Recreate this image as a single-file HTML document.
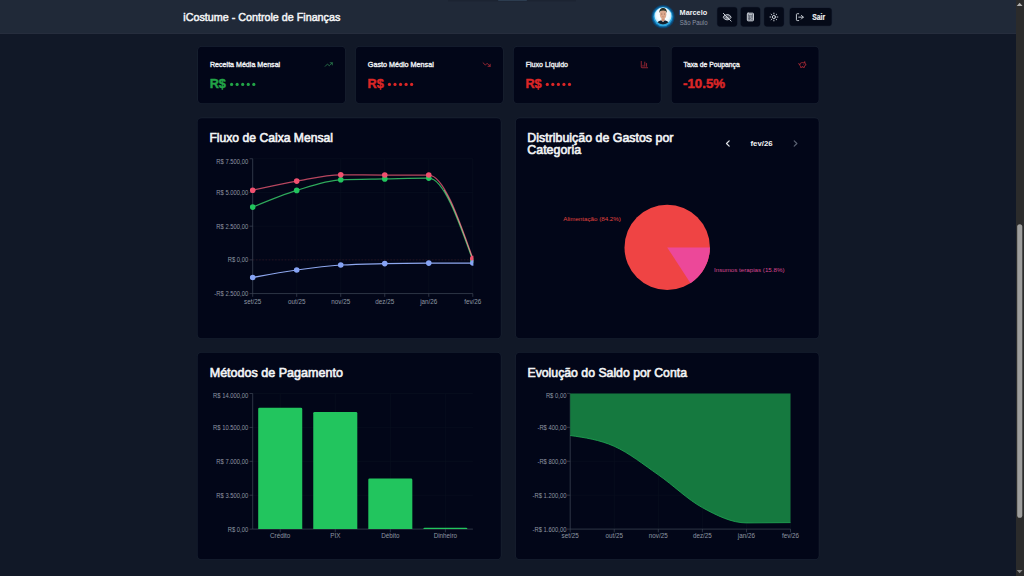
<!DOCTYPE html>
<html lang="pt-BR">
<head>
<meta charset="utf-8">
<title>iCostume - Controle de Finanças</title>
<style>
*{box-sizing:border-box;margin:0;padding:0}
html,body{width:1024px;height:576px;overflow:hidden}
body{background:#111827;font-family:"Liberation Sans",sans-serif;color:#f3f4f6;position:relative}
#hdr{position:absolute;left:0;top:0;width:1016px;height:34px;background:#202938;border-bottom:1px solid #262d3d}
.t{position:absolute;white-space:nowrap;transform-origin:0 0;margin:0}
h1.t{font-size:11.4px;line-height:14px;font-weight:normal;-webkit-text-stroke:.5px #f3f4f6;color:#f3f4f6}
h2.t{font-size:12.8px;line-height:12.4px;font-weight:normal;-webkit-text-stroke:.62px #f3f4f6;color:#f3f4f6}
.lbl{font-size:7.3px;line-height:9px;-webkit-text-stroke:.36px #eef0f3;color:#eef0f3}
.val{font-size:12.3px;line-height:14px;font-weight:bold;-webkit-text-stroke:.45px currentColor}
.g{color:#22a447}.r{color:#dc2626}
.un{font-size:7.6px;line-height:9px;font-weight:bold;color:#f3f4f6}
.uc{font-size:6.3px;line-height:8px;color:#8b93a3}
.sair{font-size:8.3px;line-height:9px;font-weight:bold;color:#f3f4f6;-webkit-text-stroke:.15px #f3f4f6}
.mon{font-size:7.2px;line-height:9px;font-weight:bold;color:#f3f4f6}
svg.l{position:absolute;left:0;top:0;width:1024px;height:576px;overflow:hidden}
svg.l text{font-family:"Liberation Sans",sans-serif;font-size:6.3px;fill:#8e96a3}
.ic{fill:none;stroke-linecap:round;stroke-linejoin:round;overflow:visible}
</style>
</head>
<body>
<div id="hdr"></div>
<svg class="l" viewBox="0 0 1024 576">
<rect x="197.4" y="46.1" width="148.3" height="57.7" rx="4.6" fill="#1a2333"/><rect x="198" y="46.7" width="147.1" height="56.5" rx="4" fill="#020618"/>
<rect x="355.25" y="46.1" width="148.3" height="57.7" rx="4.6" fill="#1a2333"/><rect x="355.85" y="46.7" width="147.1" height="56.5" rx="4" fill="#020618"/>
<rect x="513.1" y="46.1" width="148.3" height="57.7" rx="4.6" fill="#1a2333"/><rect x="513.7" y="46.7" width="147.1" height="56.5" rx="4" fill="#020618"/>
<rect x="670.95" y="46.1" width="148.3" height="57.7" rx="4.6" fill="#1a2333"/><rect x="671.55" y="46.7" width="147.1" height="56.5" rx="4" fill="#020618"/>
<rect x="197" y="117.6" width="304.4" height="221.2" rx="4.6" fill="#1a2333"/><rect x="197.6" y="118.2" width="303.2" height="220" rx="4" fill="#020618"/>
<rect x="515.3" y="117.6" width="304.05" height="221.2" rx="4.6" fill="#1a2333"/><rect x="515.9" y="118.2" width="302.85" height="220" rx="4" fill="#020618"/>
<rect x="197" y="352.2" width="304.4" height="207.7" rx="4.6" fill="#1a2333"/><rect x="197.6" y="352.8" width="303.2" height="206.5" rx="4" fill="#020618"/>
<rect x="515.3" y="352.2" width="304.05" height="207.7" rx="4.6" fill="#1a2333"/><rect x="515.9" y="352.8" width="302.85" height="206.5" rx="4" fill="#020618"/>
<rect x="716.8" y="6.8" width="20.8" height="20.1" rx="3.3" fill="#182132"/><rect x="717.3" y="7.3" width="19.8" height="19.1" rx="2.8" fill="#050a18"/>
<rect x="740.3" y="6.8" width="20.3" height="20.1" rx="3.3" fill="#182132"/><rect x="740.8" y="7.3" width="19.3" height="19.1" rx="2.8" fill="#050a18"/>
<rect x="763.7" y="6.8" width="20.6" height="20.1" rx="3.3" fill="#182132"/><rect x="764.2" y="7.3" width="19.6" height="19.1" rx="2.8" fill="#050a18"/>
<rect x="789.3" y="7.6" width="42.8" height="18.6" rx="3.3" fill="#182132"/><rect x="789.8" y="8.1" width="41.8" height="17.6" rx="2.8" fill="#050a18"/>
</svg>
<h1 class="t" style="left:183px;top:10px;transform:translate(0.3px,0px) scaleX(0.943)">iCostume - Controle de Finanças</h1>
<div class="t un" style="left:679px;top:8px;transform:translate(0.6px,0.4px) scaleX(0.96)">Marcelo</div>
<div class="t uc" style="left:679px;top:18px;transform:translate(0.8px,0.9px) scaleX(0.955)">São Paulo</div>
<div class="t sair" style="left:812px;top:12px;transform:translate(0.3px,0.65px) scaleX(0.82)">Sair</div>
<div class="t lbl" style="left:210px;top:60px;transform:translate(0px,0.2px) scaleX(0.972)">Receita Média Mensal</div>
<div class="t val g" style="left:209px;top:77px;transform:translate(0.7px,0.1px) scaleX(1.03)">R$</div>
<div class="t lbl" style="left:367px;top:60px;transform:translate(0.85px,0.2px) scaleX(0.985)">Gasto Médio Mensal</div>
<div class="t val r" style="left:367px;top:77px;transform:translate(0.55px,0.1px) scaleX(1.03)">R$</div>
<div class="t lbl" style="left:525px;top:60px;transform:translate(0.7px,0.2px) scaleX(0.965)">Fluxo Líquido</div>
<div class="t val r" style="left:525px;top:77px;transform:translate(0.4px,0.1px) scaleX(1.03)">R$</div>
<div class="t lbl" style="left:683px;top:60px;transform:translate(0.55px,0.2px) scaleX(0.93)">Taxa de Poupança</div>
<div class="t val r" style="left:683px;top:77px;transform:translate(0.05px,0.1px) scaleX(1.08)">-10.5%</div>
<h2 class="t" style="left:209px;top:132px;transform:translate(0.4px,0.2px) scaleX(0.95)">Fluxo de Caixa Mensal</h2>
<h2 class="t" style="left:527px;top:132px;transform:translate(0.3px,0.2px) scaleX(0.969)">Distribuição de Gastos por<br>Categoria</h2>
<h2 class="t" style="left:209px;top:366px;transform:translate(0.7px,0.8px) scaleX(0.98)">Métodos de Pagamento</h2>
<h2 class="t" style="left:527px;top:366px;transform:translate(0.5px,0.8px) scaleX(0.958)">Evolução do Saldo por Conta</h2>
<div class="t mon" style="left:750px;top:139px;transform:translate(0.5px,0.1px) scaleX(1.09)">fev/26</div>
<svg class="l" viewBox="0 0 1024 576">
<rect x="448" y="0" width="128" height="1.5" fill="#1c2432"/><rect x="498" y="0" width="29" height=".9" rx=".4" fill="#2c3c4f"/>
<svg x="650" y="4" width="26" height="26" viewBox="-13 -12.700 26 26" overflow="visible">
<defs><clipPath id="av"><circle cx="0" cy="-.7" r="8.400"/></clipPath>
<radialGradient id="avg" cx="50%" cy="45%" r="55%"><stop offset="0" stop-color="#ffffff"/><stop offset=".7" stop-color="#f1faff"/><stop offset="1" stop-color="#9fdcf8"/></radialGradient></defs>
<circle r="11.600" fill="#0c426d"/>
<circle r="10.600" fill="#0f6199"/>
<circle r="9.600" fill="#2aa6df"/>
<circle cx="0" cy="-.7" r="8.500" fill="url(#avg)"/>
<g clip-path="url(#av)">
<path d="M-6.400 8.500C-6.200 5-3.400 4-1.700 3.600L0 5.300 1.700 3.600C3.400 4 6.200 5 6.400 8.500z" fill="#101f2e"/>
<rect x="-1.500" y="1" width="3.200" height="3.600" rx="1" fill="#cf9479"/>
<ellipse cx=".1" cy="-2.400" rx="3.250" ry="4.500" fill="#dca88e"/>
<ellipse cx="-1.200" cy="-2.700" rx=".55" ry=".4" fill="#6b4a3f"/><ellipse cx="1.400" cy="-2.700" rx=".55" ry=".4" fill="#6b4a3f"/><path d="M-1-.1Q.1.600 1.200-.1" stroke="#b9775f" stroke-width=".45" fill="none"/>
<path d="M-3.500-3.600c-.5-3.600 1.300-5.200 3.600-5.200s4.100 1.600 3.600 5.200c-.5-1.700-1.200-2.500-3.600-2.500s-3.100.8-3.600 2.500z" fill="#2b3127"/>
</g>
</svg>
<svg class="ic" x="722.5" y="12.5" width="9.4" height="9.4" viewBox="0 0 24 24" stroke="#ccd1d9" stroke-width="2.5"><path d="M2.100 12C4 7.500 8 5.300 12 5.300s8 2.200 9.900 6.700C20 16.500 16 18.700 12 18.700S4 16.500 2.100 12z" fill="#aab0bb" fill-opacity=".4" stroke="none"/><path d="M10.733 5.076a10.744 10.744 0 0 1 11.205 6.575 1 1 0 0 1 0 .696 10.747 10.747 0 0 1-1.444 2.490"/><path d="M14.084 14.158a3 3 0 0 1-4.242-4.242"/><path d="M17.479 17.499a10.750 10.750 0 0 1-15.417-5.151 1 1 0 0 1 0-.696 10.750 10.750 0 0 1 4.446-5.143"/><path d="m2 2 20 20"/></svg>
<svg class="ic" x="745.8" y="12.4" width="9.2" height="9.2" viewBox="0 0 24 24" stroke="#ccd1d9" stroke-width="2.6"><rect width="16" height="20" x="4" y="2" rx="2" fill="#aab0bb" fill-opacity=".5"/><line x1="8" x2="16" y1="6" y2="6"/><line x1="16" x2="16" y1="14" y2="18"/><path d="M16 10h.01"/><path d="M12 10h.01"/><path d="M8 10h.01"/><path d="M12 14h.01"/><path d="M8 14h.01"/><path d="M12 18h.01"/><path d="M8 18h.01"/></svg>
<svg class="ic" x="769.2" y="12.3" width="9.4" height="9.4" viewBox="0 0 24 24" stroke="#ccd1d9" stroke-width="2.5"><circle cx="12" cy="12" r="4"/><path d="M12 2v2"/><path d="M12 20v2"/><path d="m4.930 4.930 1.410 1.410"/><path d="m17.660 17.660 1.410 1.410"/><path d="M2 12h2"/><path d="M20 12h2"/><path d="m6.340 17.660-1.410 1.410"/><path d="m19.070 4.930-1.410 1.410"/></svg>
<svg class="ic" x="795.3" y="12.6" width="9.1" height="9.1" viewBox="0 0 24 24" stroke="#ccd1d9" stroke-width="2.5"><path d="M9 21H5a2 2 0 0 1-2-2V5a2 2 0 0 1 2-2h4"/><polyline points="16 17 21 12 16 7"/><line x1="21" x2="9" y1="12" y2="12"/></svg>
<svg class="ic" x="324.5" y="60.3" width="8.5" height="8.5" viewBox="0 0 24 24" stroke="#2f8a53" stroke-width="2.1"><polyline points="22 7 13.5 15.5 8.5 10.5 2 17"/><polyline points="16 7 22 7 22 13"/></svg>
<g fill="#22a447"><circle cx="231.6" cy="84.4" r="1.6"/><circle cx="237.15" cy="84.4" r="1.6"/><circle cx="242.7" cy="84.4" r="1.6"/><circle cx="248.25" cy="84.4" r="1.6"/><circle cx="253.8" cy="84.4" r="1.6"/></g>
<svg class="ic" x="482.35" y="60.3" width="8.5" height="8.5" viewBox="0 0 24 24" stroke="#c22f3a" stroke-width="2.1"><polyline points="22 17 13.5 8.5 8.5 13.5 2 7"/><polyline points="16 17 22 17 22 11"/></svg>
<g fill="#dc2626"><circle cx="389.45" cy="84.4" r="1.6"/><circle cx="395" cy="84.4" r="1.6"/><circle cx="400.55" cy="84.4" r="1.6"/><circle cx="406.1" cy="84.4" r="1.6"/><circle cx="411.65" cy="84.4" r="1.6"/></g>
<svg class="ic" x="640.2" y="60.3" width="8.5" height="8.5" viewBox="0 0 24 24" stroke="#c22f3a" stroke-width="2.1"><path d="M3 3v16a2 2 0 0 0 2 2h16"/><path d="M18 17V9"/><path d="M13 17V5"/><path d="M8 17v-3"/></svg>
<g fill="#dc2626"><circle cx="547.3" cy="84.4" r="1.6"/><circle cx="552.85" cy="84.4" r="1.6"/><circle cx="558.4" cy="84.4" r="1.6"/><circle cx="563.95" cy="84.4" r="1.6"/><circle cx="569.5" cy="84.4" r="1.6"/></g>
<svg class="ic" x="798.05" y="60.3" width="8.5" height="8.5" viewBox="0 0 24 24" stroke="#c22f3a" stroke-width="2.1"><path d="M19 5c-1.500 0-2.800 1.400-3 2-3.500-1.500-11-.3-11 5 0 1.800 0 3 2 4.500V20h4v-2h3v2h4v-4c1-.5 1.700-1 2-2h2v-4h-2c0-1-.5-1.500-1-2V5z"/><path d="M2 9v1c0 1.100.9 2 2 2h1"/><path d="M16 11h.01"/></svg>
<svg class="ic" x="722.5" y="138.15" width="10.7" height="10.7" viewBox="0 0 24 24" stroke="#e1e4e9" stroke-width="2.7"><path d="m15 18-6-6 6-6"/></svg>
<svg class="ic" x="790.2" y="138.15" width="10.7" height="10.7" viewBox="0 0 24 24" stroke="#5a6272" stroke-width="2.7"><path d="m9 18 6-6-6-6"/></svg>
<g stroke="#0a1020" stroke-width=".6" fill="none"><path d="M252.7,158.75H472.8"/><path d="M252.7,192.46H472.8"/><path d="M252.7,226.18H472.8"/><path d="M252.7,259.89H472.8"/><path d="M252.7,293.6H472.8"/><path d="M252.7,158.75V293.6"/><path d="M296.72,158.75V293.6"/><path d="M340.74,158.75V293.6"/><path d="M384.76,158.75V293.6"/><path d="M428.78,158.75V293.6"/><path d="M472.8,158.75V293.6"/></g>
<g stroke="#4a5261" stroke-width=".6" fill="none"><path d="M252.7,158.75V293.6"/><path d="M252.7,293.6H472.8"/><path d="M249.5,158.75H252.7"/><path d="M249.5,192.46H252.7"/><path d="M249.5,226.18H252.7"/><path d="M249.5,259.89H252.7"/><path d="M249.5,293.6H252.7"/><path d="M252.7,293.6V296.8"/><path d="M296.72,293.6V296.8"/><path d="M340.74,293.6V296.8"/><path d="M384.76,293.6V296.8"/><path d="M428.78,293.6V296.8"/><path d="M472.8,293.6V296.8"/></g>
<g text-anchor="end"><text transform="translate(248.2,163.55) scale(.93,1)">R$ 7.500,00</text><text transform="translate(248.2,194.96) scale(.93,1)">R$ 5.000,00</text><text transform="translate(248.2,228.68) scale(.93,1)">R$ 2.500,00</text><text transform="translate(248.2,262.39) scale(.93,1)">R$ 0,00</text><text transform="translate(248.2,296.1) scale(.93,1)">-R$ 2.500,00</text></g>
<g text-anchor="middle"><text x="252.7" y="304">set/25</text><text x="296.72" y="304">out/25</text><text x="340.74" y="304">nov/25</text><text x="384.76" y="304">dez/25</text><text x="428.78" y="304">jan/26</text><text x="472.8" y="304">fev/26</text></g>
<path d="M252.7,259.89H472.8" stroke="#3d1a25" stroke-width=".6" stroke-dasharray="1.6 1.6" fill="none"/>
<clipPath id="cp1"><rect x="249.7" y="158.75" width="223.7" height="134.85"/></clipPath>
<g clip-path="url(#cp1)">
<path d="M252.70,207.10C267.37,201.03,282.05,194.95,296.72,190.40C311.39,185.85,326.07,180.40,340.74,179.80C355.41,179.20,370.09,179.18,384.76,178.90C399.43,178.62,414.11,178.10,428.78,178.10C443.45,178.10,458.13,219.20,472.80,260.30" fill="none" stroke="#2ea95b" stroke-width="1.25" stroke-opacity="1"/>
<path d="M252.70,190.20C267.37,186.93,282.05,183.67,296.72,181.10C311.39,178.53,326.07,174.80,340.74,174.80C355.41,174.80,370.09,175.00,384.76,175.00C399.43,175.00,414.11,175.00,428.78,175.00C443.45,175.00,458.13,216.75,472.80,258.50" fill="none" stroke="#ea5873" stroke-width="1.25" stroke-opacity="0.78"/>
<path d="M252.70,277.50C267.37,274.79,282.05,272.08,296.72,270.00C311.39,267.92,326.07,265.93,340.74,265.00C355.41,264.07,370.09,263.92,384.76,263.60C399.43,263.28,414.11,263.17,428.78,263.10C443.45,263.03,458.13,263.02,472.80,263.00" fill="none" stroke="#8ea7ee" stroke-width="1.25" stroke-opacity="1"/>
<path d="M444.19,190C453.72,205.55,463.26,232.47,472.8,259.4" fill="none" stroke="#d8c2ad" stroke-width=".9" stroke-opacity=".6"/>
<g fill="#22c55e"><circle cx="252.7" cy="207.1" r="2.8"/><circle cx="296.72" cy="190.4" r="2.8"/><circle cx="340.74" cy="179.8" r="2.8"/><circle cx="384.76" cy="178.9" r="2.8"/><circle cx="428.78" cy="178.1" r="2.8"/><circle cx="472.8" cy="260.3" r="2.8"/></g>
<g fill="#f1506f"><circle cx="252.7" cy="190.2" r="2.8"/><circle cx="296.72" cy="181.1" r="2.8"/><circle cx="340.74" cy="174.8" r="2.8"/><circle cx="384.76" cy="175" r="2.8"/><circle cx="428.78" cy="175" r="2.8"/><circle cx="472.8" cy="258.5" r="2.8"/></g>
<g fill="#86a3f4"><circle cx="252.7" cy="277.5" r="2.8"/><circle cx="296.72" cy="270" r="2.8"/><circle cx="340.74" cy="265" r="2.8"/><circle cx="384.76" cy="263.6" r="2.8"/><circle cx="428.78" cy="263.1" r="2.8"/><circle cx="472.8" cy="263" r="2.8"/></g>
</g>
<circle cx="667.2" cy="247.4" r="42.7" fill="#ef4444"/>
<path d="M667.2,247.4L709.9,247.4A42.7,42.7 0 0 1 690.52,283.17Z" fill="#ec4899"/>
<text x="620.8" y="221.4" text-anchor="end" style="fill:#e0433f;font-size:6.2px">Alimentação (84.2%)</text>
<text x="714" y="271.9" text-anchor="start" style="fill:#d9468f;font-size:6.2px">Insumos terapias (15.8%)</text>
<g stroke="#0a1020" stroke-width=".6" fill="none"><path d="M252.7,393.5H472.9"/><path d="M252.7,427.4H472.9"/><path d="M252.7,461.3H472.9"/><path d="M252.7,495.2H472.9"/><path d="M252.7,529.1H472.9"/><path d="M280.22,393.5V529.1"/><path d="M335.27,393.5V529.1"/><path d="M390.32,393.5V529.1"/><path d="M445.38,393.5V529.1"/></g>
<g stroke="#4a5261" stroke-width=".6" fill="none"><path d="M252.7,393.5V529.1"/><path d="M252.7,529.1H472.9"/><path d="M249.5,393.5H252.7"/><path d="M249.5,427.4H252.7"/><path d="M249.5,461.3H252.7"/><path d="M249.5,495.2H252.7"/><path d="M249.5,529.1H252.7"/><path d="M280.22,529.1V532.3"/><path d="M335.27,529.1V532.3"/><path d="M390.32,529.1V532.3"/><path d="M445.38,529.1V532.3"/></g>
<g text-anchor="end"><text transform="translate(248.2,398.3) scale(.93,1)">R$ 14.000,00</text><text transform="translate(248.2,429.9) scale(.93,1)">R$ 10.500,00</text><text transform="translate(248.2,463.8) scale(.93,1)">R$ 7.000,00</text><text transform="translate(248.2,497.7) scale(.93,1)">R$ 3.500,00</text><text transform="translate(248.2,531.6) scale(.93,1)">R$ 0,00</text></g>
<g text-anchor="middle"><text x="280.22" y="538.3">Crédito</text><text x="335.27" y="538.3">PIX</text><text x="390.32" y="538.3">Débito</text><text x="445.38" y="538.3">Dinheiro</text></g>
<path d="M258.2,529.1V409Q258.2,407.7 259.5,407.7H300.94Q302.25,407.7 302.25,409V529.1Z" fill="#22c55e"/>
<path d="M313.25,529.1V413.3Q313.25,412 314.56,412H356Q357.3,412 357.3,413.3V529.1Z" fill="#22c55e"/>
<path d="M368.3,529.1V479.8Q368.3,478.5 369.6,478.5H411.04Q412.34,478.5 412.34,479.8V529.1Z" fill="#22c55e"/>
<path d="M423.35,529.1V529.1Q423.35,527.8 424.65,527.8H466.09Q467.39,527.8 467.39,529.1V529.1Z" fill="#22c55e"/>
<g stroke="#0a1020" stroke-width=".6" fill="none"><path d="M570.2,393.4H790.5"/><path d="M570.2,427.32H790.5"/><path d="M570.2,461.25H790.5"/><path d="M570.2,495.18H790.5"/><path d="M570.2,529.1H790.5"/><path d="M570.2,393.4V529.1"/><path d="M614.26,393.4V529.1"/><path d="M658.32,393.4V529.1"/><path d="M702.38,393.4V529.1"/><path d="M746.44,393.4V529.1"/><path d="M790.5,393.4V529.1"/></g>
<g stroke="#4a5261" stroke-width=".6" fill="none"><path d="M570.2,393.4V529.1"/><path d="M570.2,529.1H790.5"/><path d="M567,393.4H570.2"/><path d="M567,427.32H570.2"/><path d="M567,461.25H570.2"/><path d="M567,495.18H570.2"/><path d="M567,529.1H570.2"/><path d="M570.2,529.1V532.3"/><path d="M614.26,529.1V532.3"/><path d="M658.32,529.1V532.3"/><path d="M702.38,529.1V532.3"/><path d="M746.44,529.1V532.3"/><path d="M790.5,529.1V532.3"/></g>
<g text-anchor="end"><text transform="translate(566.4,398.2) scale(.93,1)">R$ 0,00</text><text transform="translate(566.4,429.82) scale(.93,1)">-R$ 400,00</text><text transform="translate(566.4,463.75) scale(.93,1)">-R$ 800,00</text><text transform="translate(566.4,497.68) scale(.93,1)">-R$ 1.200,00</text><text transform="translate(566.4,531.6) scale(.93,1)">-R$ 1.600,00</text></g>
<g text-anchor="middle"><text x="570.2" y="538.3">set/25</text><text x="614.26" y="538.3">out/25</text><text x="658.32" y="538.3">nov/25</text><text x="702.38" y="538.3">dez/25</text><text x="746.44" y="538.3">jan/26</text><text x="790.5" y="538.3">fev/26</text></g>
<path d="M570.20,435.50C584.89,437.62,599.57,439.75,614.26,446.30C628.95,452.85,643.63,464.58,658.32,474.80C673.01,485.02,687.69,499.58,702.38,507.60C717.07,515.62,731.75,522.90,746.44,522.90C761.13,522.90,775.81,522.75,790.50,522.60L790.5,393.4L570.2,393.4Z" fill="#15793f"/>
<path d="M570.20,435.50C584.89,437.62,599.57,439.75,614.26,446.30C628.95,452.85,643.63,464.58,658.32,474.80C673.01,485.02,687.69,499.58,702.38,507.60C717.07,515.62,731.75,522.90,746.44,522.90C761.13,522.90,775.81,522.75,790.50,522.60" fill="none" stroke="#1f9f51" stroke-width=".9"/>
<rect x="1016" y="0" width="8" height="576" fill="#2b2b2b"/><path d="M1016.700,6.100H1022.600L1019.650,2.800Z" fill="#b0b0b0"/><path d="M1016.700,569.900H1022.600L1019.650,573.200Z" fill="#8a8a8a"/><rect x="1017.200" y="224.200" width="5.100" height="293.600" rx="2.550" fill="#9e9e9d"/>
</svg>
</body>
</html>
